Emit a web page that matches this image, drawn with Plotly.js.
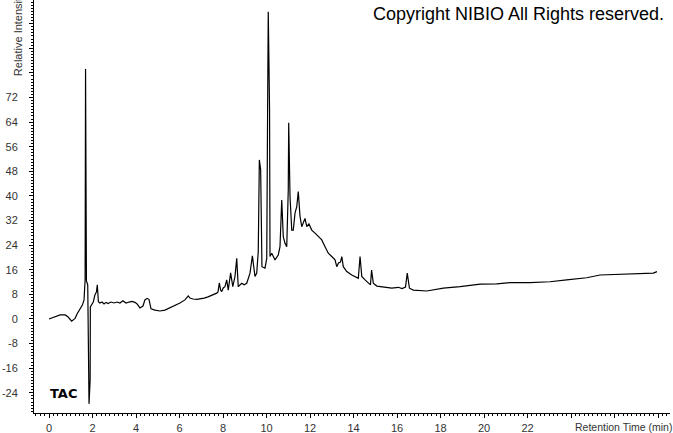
<!DOCTYPE html>
<html>
<head>
<meta charset="utf-8">
<script src="https://cdn.plot.ly/plotly-3.0.1.min.js"></script>
<style>html,body{margin:0;padding:0;background:#fff;}#chart{width:673px;height:433px;}</style>
</head>
<body>
<div id="chart"></div>
<script>
// Retention time (min)
const retentionTime = [
  0.00,0.28,0.51,0.74,0.87,1.04,1.20,1.29,1.39,1.47,1.54,1.61,1.66,1.68,1.71,1.72,1.78,1.81,1.84,1.89,1.90,
  2.04,2.11,2.18,2.22,2.27,2.34,2.44,2.53,2.62,2.71,2.85,2.99,3.13,3.26,3.40,3.54,3.68,3.82,3.95,4.05,4.18,
  4.32,4.41,4.51,4.60,4.69,4.87,5.10,5.33,5.56,5.79,6.02,6.25,6.40,6.48,6.62,6.80,6.94,7.13,7.31,7.45,7.59,
  7.71,7.77,7.83,7.89,7.94,8.01,8.09,8.17,8.24,8.35,8.45,8.55,8.63,8.70,8.86,8.97,9.09,9.24,9.35,9.47,9.55,
  9.62,9.67,9.73,9.79,9.93,10.01,10.05,10.08,10.14,10.16,10.24,10.39,10.54,10.62,10.70,10.77,10.85,10.93,
  11.00,11.02,11.08,11.16,11.23,11.31,11.39,11.46,11.54,11.62,11.77,11.85,11.95,12.08,12.23,12.38,12.54,
  12.69,12.84,13.00,13.15,13.23,13.31,13.40,13.46,13.53,13.69,13.92,14.07,14.22,14.30,14.38,14.53,14.68,
  14.78,14.83,14.91,15.07,15.37,15.76,16.06,16.23,16.39,16.47,16.57,16.75,17.37,18.13,18.90,19.82,20.58,
  21.20,22.11,23.03,23.80,24.72,25.33,26.25,27.17,27.78,27.95
];
// Relative intensity
const intensity = [
  0.0,0.8,1.3,1.3,0.7,-0.7,0.2,1.6,2.9,4.2,4.6,6.2,12.7,81.3,12.7,12.4,11.1,-19.8,-27.6,-19.8,3.9,
  5.6,7.8,8.8,11.1,5.6,5.2,5.5,4.9,5.4,5.0,5.5,5.2,5.5,5.2,5.9,5.2,5.5,5.7,5.4,4.9,3.6,
  4.2,6.2,6.7,6.3,3.3,2.9,2.6,2.9,3.6,4.4,5.2,6.2,7.5,6.8,6.5,6.4,6.5,6.8,7.2,7.6,7.8,
  8.4,8.8,11.7,9.4,8.9,10.1,10.5,12.7,9.4,15.0,10.5,13.8,19.7,10.5,11.6,11.1,11.6,14.9,20.5,13.8,14.9,
  21.9,51.7,48.5,17.0,16.5,19.7,68.0,99.9,68.0,20.3,21.4,19.2,20.8,23.5,38.7,26.8,24.6,23.5,
  42.0,63.8,39.8,28.9,28.9,34.4,36.5,41.4,33.3,30.0,32.7,30.0,30.9,28.9,27.9,26.8,25.7,
  23.5,21.4,20.3,19.2,17.0,18.2,18.5,20.3,17.0,15.4,14.3,13.8,13.2,20.3,13.8,12.7,11.6,
  11.1,15.9,11.6,10.7,10.5,10.0,10.3,9.9,10.4,14.9,10.0,9.4,9.1,10.0,10.5,11.3,11.4,
  11.8,11.8,12.1,12.7,13.4,14.3,14.5,14.6,14.9,15.4
];
const xTickVals = [0,2,4,6,8,10,12,14,16,18,20,22,24,26,28];
const xTickText = ['0','2','4','6','8','10','12','14','16','18','20','22','','',''];
const yTickVals = [-24,-16,-8,0,8,16,24,32,40,48,56,64,72,80,88,96];
const yTickText = ['-24','-16','-8','0','8','16','24','32','40','48','56','64','72','','',''];

const tickFont = {family:'Liberation Sans, Arial, sans-serif', size:11, color:'#333'};

Plotly.newPlot('chart', [{
  x: retentionTime, y: intensity, type:'scatter', mode:'lines',
  line:{color:'#000', width:1.2}, hoverinfo:'none'
}], {
  width:673, height:433,
  margin:{l:34, r:3, t:0, b:20, pad:0},
  paper_bgcolor:'#fff', plot_bgcolor:'#fff',
  showlegend:false,
  xaxis:{
    range:[-0.69, 28.55], showgrid:false, zeroline:false,
    showline:true, linecolor:'#000', linewidth:1,
    ticks:'outside', ticklen:4, tickcolor:'#000', tickwidth:1,
    tickmode:'array', tickvals:xTickVals, ticktext:xTickText,
    tickfont:tickFont, ticklabelstandoff:1,
    minor:{tickmode:'linear', dtick:0.2, tick0:0, ticks:'outside', ticklen:2, tickcolor:'#000', tickwidth:1, showgrid:false}
  },
  yaxis:{
    range:[-30.57, 103.7], showgrid:false, zeroline:false,
    showline:true, linecolor:'#000', linewidth:1,
    ticks:'outside', ticklen:4, tickcolor:'#000', tickwidth:1,
    tickmode:'array', tickvals:yTickVals, ticktext:yTickText,
    tickfont:tickFont, ticklabelstandoff:9,
    minor:{tickmode:'linear', dtick:1, tick0:0, ticks:'outside', ticklen:2, tickcolor:'#000', tickwidth:1, showgrid:false}
  },
  annotations:[
    {text:'Copyright NIBIO All Rights reserved.', xref:'paper', yref:'paper', x:0.9937, y:0.966,
     xanchor:'right', yanchor:'middle', showarrow:false,
     font:{family:'Liberation Sans, Arial, sans-serif', size:18, color:'#000'}},
    {text:'<b>TAC</b>', xref:'paper', yref:'paper', x:0.022, y:0.048,
     xanchor:'left', yanchor:'middle', showarrow:false,
     font:{family:'DejaVu Sans, Verdana, sans-serif', size:13, color:'#000'}},
    {text:'Retention Time (min)', xref:'paper', yref:'paper', x:1.006, y:-0.034,
     xanchor:'right', yanchor:'middle', showarrow:false,
     font:{family:'Liberation Sans, Arial, sans-serif', size:10.5, color:'#333'}},
    {text:'Relative Intensity', xref:'paper', yref:'paper', x:-0.025, y:0.811,
     xanchor:'center', yanchor:'bottom', textangle:-90, showarrow:false,
     font:{family:'Liberation Sans, Arial, sans-serif', size:11, color:'#333'}}
  ]
}, {displayModeBar:false, staticPlot:true});
</script>
</body>
</html>
